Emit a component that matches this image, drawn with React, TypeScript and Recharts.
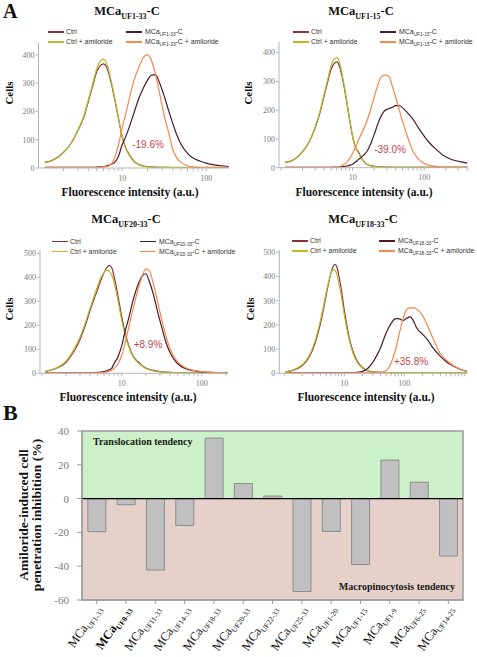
import React from 'react';
import { LineChart, Line, XAxis, YAxis, BarChart, Bar, ReferenceArea, ReferenceLine } from 'recharts';

const SERIF = '"Liberation Serif", "Times New Roman", Times, serif';
const SANS = '"Liberation Sans", Arial, Helvetica, sans-serif';

const COLORS = { ctrl: '#8e2f40', ctrlA: '#b7ba2a', mca: '#4b1b2b', mcaA: '#f5874c' };

// ---------- tick values for log axes ----------
const logTicks = [1, 2, 3, 4, 5, 6, 7, 8, 9, 10, 20, 30, 40, 50, 60, 70, 80, 90, 100, 200, 300, 400, 500, 600, 700, 800, 900, 1000];
const labelledTicks = [10, 100];
const cellTicks400 = [0, 100, 200, 300, 400];
const cellTicks500 = [0, 100, 200, 300, 400, 500];

// ---------- panel MCaUF1-33-C ----------
const xsUF1_33 = [1.2, 1.5, 2, 2.5, 3, 3.5, 4, 4.5, 5, 5.5, 6, 6.5, 7, 8, 9, 10, 11, 12, 14, 16, 18, 20, 22, 25, 28, 32, 36, 40, 45, 50, 60, 70, 85, 100, 120, 150, 185];
const ctrlUF1_33 = [20, 28, 55, 90, 135, 180, 240, 295, 342, 362, 368, 358, 330, 255, 178, 112, 72, 50, 22, 12, 7, 5, 4, 3, 2, 2, 2, 1, 1, 1, 1, 1, 1, 1, 1, 1, 1];
const ctrlAmiUF1_33 = [18, 27, 54, 90, 137, 184, 246, 302, 352, 378, 385, 372, 340, 260, 180, 110, 70, 48, 21, 11, 6, 4, 3, 3, 2, 2, 2, 2, 2, 2, 2, 2, 2, 2, 2, 2, 2];
const mcaUF1_33 = [2, 2, 2, 2, 2, 2, 2, 2, 3, 4, 5, 7, 10, 18, 40, 82, 110, 140, 200, 250, 285, 310, 327, 330, 300, 250, 200, 158, 115, 85, 52, 35, 24, 17, 12, 8, 5];
const mcaAmiUF1_33 = [2, 2, 2, 2, 2, 2, 2, 2, 2, 3, 4, 5, 8, 30, 80, 140, 190, 238, 315, 360, 392, 400, 385, 330, 262, 180, 122, 65, 35, 20, 8, 4, 2, 2, 2, 2, 2];

// ---------- panel MCaUF1-15-C ----------
const xsUF1_15 = [1.13, 1.5, 2, 2.5, 3, 3.5, 4, 4.5, 5, 5.5, 6, 6.5, 7, 8, 9, 10, 11, 12, 14, 16, 18, 20, 22, 25, 28, 32, 36, 40, 45, 50, 60, 70, 85, 100, 120, 150, 180, 220, 270, 330, 400];
const ctrlUF1_15 = [19, 28, 56, 92, 140, 192, 250, 300, 342, 362, 368, 355, 325, 250, 172, 108, 70, 55, 25, 11, 7, 5, 4, 3, 2, 2, 2, 1, 1, 1, 1, 1, 1, 1, 1, 1, 1, 1, 1, 1, 1];
const ctrlAmiUF1_15 = [17, 27, 55, 92, 142, 196, 256, 308, 355, 378, 383, 370, 335, 255, 175, 108, 68, 52, 23, 11, 6, 4, 3, 3, 2, 2, 2, 2, 2, 2, 2, 2, 2, 2, 2, 2, 2, 2, 2, 2, 2];
const mcaUF1_15 = [1, 1, 1, 1, 1, 1, 1, 1, 1, 2, 2, 2, 3, 5, 8, 12, 20, 28, 42, 58, 85, 115, 145, 180, 198, 205, 210, 216, 216, 208, 188, 168, 135, 110, 85, 62, 45, 33, 25, 20, 16];
const mcaAmiUF1_15 = [1, 1, 1, 1, 1, 1, 1, 1, 1, 2, 2, 4, 7, 15, 30, 50, 72, 95, 130, 165, 205, 245, 280, 315, 322, 318, 282, 245, 200, 160, 100, 56, 28, 15, 8, 4, 2, 2, 2, 2, 2];

// ---------- panel MCaUF20-33-C ----------
const xsUF20_33 = [1.1, 1.5, 2, 2.5, 3, 3.5, 4, 4.5, 5, 5.5, 6, 6.5, 7, 7.5, 8, 9, 10, 11, 12, 14, 16, 18, 20, 22, 25, 28, 32, 36, 40, 45, 50, 60, 70, 85, 100, 130, 160, 210];
const ctrlUF20_33 = [7, 20, 45, 90, 140, 200, 260, 310, 350, 390, 420, 440, 450, 440, 405, 320, 235, 170, 125, 70, 48, 32, 22, 17, 12, 9, 6, 5, 4, 3, 3, 2, 2, 2, 2, 2, 2, 2];
const ctrlAmiUF20_33 = [8, 22, 50, 97, 150, 210, 270, 320, 365, 400, 420, 430, 425, 410, 380, 300, 220, 160, 118, 66, 44, 30, 20, 15, 10, 7, 5, 4, 3, 3, 3, 2, 2, 2, 2, 2, 2, 2];
const mcaUF20_33 = [2, 2, 2, 2, 2, 2, 2, 3, 4, 5, 7, 10, 15, 22, 40, 70, 115, 175, 220, 310, 370, 405, 415, 385, 326, 258, 185, 125, 88, 58, 40, 22, 14, 9, 6, 4, 3, 2];
const mcaAmiUF20_33 = [2, 2, 2, 2, 2, 2, 2, 2, 2, 3, 4, 6, 9, 13, 20, 40, 75, 125, 180, 275, 350, 405, 435, 428, 370, 300, 215, 150, 105, 70, 48, 27, 17, 10, 7, 4, 3, 2];

// ---------- panel MCaUF18-33-C ----------
const xsUF18_33 = [1.05, 1.5, 2, 2.5, 3, 3.5, 4, 4.5, 5, 5.5, 6, 6.5, 7, 7.5, 8, 9, 10, 11, 12, 14, 16, 20, 25, 30, 35, 40, 50, 60, 70, 80, 95, 110, 125, 140, 160, 200, 250, 300, 400, 500, 650, 850, 1100];
const ctrlUF18_33 = [5, 15, 32, 60, 100, 150, 205, 265, 325, 375, 415, 440, 450, 440, 410, 340, 260, 200, 150, 90, 55, 24, 10, 6, 5, 4, 3, 2, 2, 2, 2, 2, 2, 2, 2, 2, 2, 2, 2, 2, 2, 2, 2];
const ctrlAmiUF18_33 = [6, 17, 36, 66, 108, 160, 218, 278, 335, 380, 412, 428, 425, 410, 380, 315, 240, 185, 140, 82, 50, 22, 9, 5, 4, 3, 3, 3, 3, 3, 3, 3, 3, 3, 3, 3, 3, 3, 3, 3, 3, 3, 3];
const mcaUF18_33 = [2, 2, 2, 2, 2, 2, 2, 2, 2, 2, 2, 2, 2, 2, 2, 2, 2, 3, 3, 3, 4, 8, 22, 46, 75, 105, 168, 205, 225, 226, 218, 228, 233, 220, 188, 162, 135, 105, 70, 48, 30, 17, 8];
const mcaAmiUF18_33 = [2, 2, 2, 2, 2, 2, 2, 2, 2, 2, 2, 2, 2, 2, 2, 2, 2, 2, 2, 2, 2, 2, 2, 3, 3, 4, 12, 42, 90, 150, 225, 265, 270, 270, 266, 240, 190, 145, 80, 55, 32, 17, 8];

// ---------- panel B ----------
const peptides = ['UF1-33', 'UF8-33', 'UF11-33', 'UF14-33', 'UF18-33', 'UF20-33', 'UF22-33', 'UF25-33', 'UF1-20', 'UF1-15', 'UF1-9', 'UF6-25', 'UF14-25'];
const inhibition = [-19.6, -3.6, -42.3, -15.9, 35.8, 8.9, 1.5, -55.0, -19.4, -39.0, 22.8, 9.7, -34.0];
const inhibitionTicks = [-60, -40, -20, 0, 20, 40];

const fmtPct = (v: number) => (v > 0 ? '+' : '') + v.toFixed(1) + '%';
const noteFor = (p: string) => fmtPct(inhibition[peptides.indexOf(p)]);

const panels = [
  {
    pep: 'UF1-33', xs: xsUF1_33, ctrl: ctrlUF1_33, ctrlA: ctrlAmiUF1_33, mca: mcaUF1_33, mcaA: mcaAmiUF1_33,
    box: { x: 0, y: 0 }, plot: { l: 38.5, r: 229, t: 43, b: 168 }, xDomain: [1.01, 187], yDomain: [0, 442], yTicks: cellTicks400,
    title: { x: 127, y: 11 }, legendY: [32, 42], legendX: [48, 126], cells: { x: 9, y: 93 }, xlabel: { x: 130, y: 193 }, note: { x: 148, y: 145 },
  },
  {
    pep: 'UF1-15', xs: xsUF1_15, ctrl: ctrlUF1_15, ctrlA: ctrlAmiUF1_15, mca: mcaUF1_15, mcaA: mcaAmiUF1_15,
    box: { x: 240, y: 0 }, plot: { l: 279, r: 468, t: 42, b: 167.7 }, xDomain: [0.935, 410], yDomain: [0, 437], yTicks: cellTicks400,
    title: { x: 361, y: 11 }, legendY: [32, 42], legendX: [293, 380], cells: { x: 248, y: 93 }, xlabel: { x: 364, y: 193 }, note: { x: 390, y: 150 },
  },
  {
    pep: 'UF20-33', xs: xsUF20_33, ctrl: ctrlUF20_33, ctrlA: ctrlAmiUF20_33, mca: mcaUF20_33, mcaA: mcaAmiUF20_33,
    box: { x: 0, y: 200 }, plot: { l: 40, r: 228, t: 250, b: 373.3 }, xDomain: [0.95, 213], yDomain: [0, 514], yTicks: cellTicks500,
    title: { x: 126, y: 219 }, legendY: [241.7, 251.7], legendX: [52, 140], cells: { x: 9, y: 309 }, xlabel: { x: 128, y: 398 }, note: { x: 148, y: 345 },
  },
  {
    pep: 'UF18-33', xs: xsUF18_33, ctrl: ctrlUF18_33, ctrlA: ctrlAmiUF18_33, mca: mcaUF18_33, mcaA: mcaAmiUF18_33,
    box: { x: 240, y: 200 }, plot: { l: 279.3, r: 468, t: 250, b: 373.3 }, xDomain: [0.826, 1150], yDomain: [0, 509.5], yTicks: cellTicks500,
    title: { x: 363, y: 219 }, legendY: [241, 251], legendX: [292, 379], cells: { x: 250, y: 309 }, xlabel: { x: 366, y: 398 }, note: { x: 411, y: 362 },
  },
];

type AbsProps = { x: number; y: number; anchor?: 'start' | 'middle' | 'end'; rotate?: number; style?: React.CSSProperties; children?: React.ReactNode };
const Abs = ({ x, y, anchor = 'middle', rotate = 0, style, children }: AbsProps) => (
  <div
    style={{
      position: 'absolute', left: x, top: y, whiteSpace: 'nowrap', lineHeight: 1,
      transform: `translate(${anchor === 'start' ? '0' : anchor === 'end' ? '-100%' : '-50%'}, -50%) rotate(${rotate}deg)`,
      ...style,
    }}
  >
    {children}
  </div>
);

const Sub = ({ children, size }: { children: React.ReactNode; size: number }) => (
  <span style={{ fontSize: size, position: 'relative', top: size * 0.45 }}>{children}</span>
);

function Histogram({ cfg }: { cfg: any }) {
  const W = 240, H = 200, YW = 28, XH = 16;
  const { box, plot } = cfg;
  const data = cfg.xs.map((x: number, i: number) => ({ x, ctrl: cfg.ctrl[i], ctrlA: cfg.ctrlA[i], mca: cfg.mca[i], mcaA: cfg.mcaA[i] }));
  const margin = { top: plot.t - box.y, left: plot.l - box.x - YW, right: box.x + W - plot.r, bottom: box.y + H - plot.b - XH };
  const ticks = logTicks.filter((t) => t >= cfg.xDomain[0] && t <= cfg.xDomain[1]);
  const tickStyle = { fontSize: 8, fill: '#7a7a7a', fontFamily: SERIF };
  const legendText = { fontFamily: SANS, fontSize: 6.9, color: '#333' };
  const legLine = (x: number, y: number, color: string) => (
    <div style={{ position: 'absolute', left: x, top: y - 0.75, width: 16, height: 1.5, background: color }} />
  );
  const mcaName = (
    <>
      MCa<Sub size={4.8}>{cfg.pep}</Sub>-C
    </>
  );
  return (
    <>
      <div style={{ position: 'absolute', left: box.x, top: box.y }}>
        <LineChart width={W} height={H} data={data} margin={margin}>
          <XAxis
            dataKey="x" type="number" scale="log" domain={cfg.xDomain} allowDataOverflow ticks={ticks} interval={0}
            tickFormatter={(v: number) => (labelledTicks.includes(v) ? String(v) : '')}
            height={XH} tickSize={3} tickMargin={4} stroke="#b5b5b5" tick={tickStyle}
          />
          <YAxis
            type="number" domain={cfg.yDomain} ticks={cfg.yTicks} allowDataOverflow interval={0}
            width={YW} tickSize={3} tickMargin={1} stroke="#b5b5b5" tick={tickStyle}
          />
          <Line type="monotone" dataKey="ctrl" stroke={COLORS.ctrl} strokeWidth={1.2} dot={false} isAnimationActive={false} />
          <Line type="monotone" dataKey="ctrlA" stroke={COLORS.ctrlA} strokeWidth={1.2} dot={false} isAnimationActive={false} />
          <Line type="monotone" dataKey="mca" stroke={COLORS.mca} strokeWidth={1.2} dot={false} isAnimationActive={false} />
          <Line type="monotone" dataKey="mcaA" stroke={COLORS.mcaA} strokeWidth={1.2} dot={false} isAnimationActive={false} />
        </LineChart>
      </div>
      <Abs x={cfg.title.x} y={cfg.title.y} style={{ fontFamily: SERIF, fontWeight: 'bold', fontSize: 12.5, color: '#111' }}>
        MCa<Sub size={8}>{cfg.pep}</Sub>-C
      </Abs>
      {legLine(cfg.legendX[0], cfg.legendY[0], COLORS.ctrl)}
      <Abs x={cfg.legendX[0] + 18} y={cfg.legendY[0]} anchor="start" style={legendText}>Ctrl</Abs>
      {legLine(cfg.legendX[0], cfg.legendY[1], COLORS.ctrlA)}
      <Abs x={cfg.legendX[0] + 18} y={cfg.legendY[1]} anchor="start" style={legendText}>Ctrl + amiloride</Abs>
      {legLine(cfg.legendX[1], cfg.legendY[0], COLORS.mca)}
      <Abs x={cfg.legendX[1] + 19} y={cfg.legendY[0]} anchor="start" style={legendText}>{mcaName}</Abs>
      {legLine(cfg.legendX[1], cfg.legendY[1], COLORS.mcaA)}
      <Abs x={cfg.legendX[1] + 19} y={cfg.legendY[1]} anchor="start" style={legendText}>{mcaName} + amiloride</Abs>
      <Abs x={cfg.cells.x} y={cfg.cells.y} rotate={-90} style={{ fontFamily: SERIF, fontWeight: 'bold', fontSize: 11, color: '#111' }}>Cells</Abs>
      <Abs x={cfg.xlabel.x} y={cfg.xlabel.y} style={{ fontFamily: SERIF, fontWeight: 'bold', fontSize: 11.5, color: '#111' }}>Fluorescence intensity (a.u.)</Abs>
      <Abs x={cfg.note.x} y={cfg.note.y} style={{ fontFamily: SANS, fontSize: 10, color: '#c4454f' }}>{noteFor(cfg.pep)}</Abs>
    </>
  );
}

// approximate Times advance widths (em) for subscript layout
const timesWidth = (s: string, size: number, bold: boolean) =>
  s.split('').reduce((w, ch) => {
    const em = ch === 'U' ? 0.722 : ch === 'F' ? (bold ? 0.611 : 0.556) : ch === '-' ? 0.333 : 0.5;
    return w + em * size;
  }, 0);

const renderPeptideTick = (props: any) => {
  const { x, y, payload } = props;
  const label = String(payload.value);
  const bold = label === 'UF8-33';
  const subSize = 7.5;
  const subW = timesWidth(label, subSize, bold);
  const weight = bold ? 'bold' : 'normal';
  return (
    <g transform={`translate(${x + 5},${y + 3})`}>
      <g transform="rotate(-55)">
        <text x={0} y={3} textAnchor="end" fontFamily={SERIF} fontSize={subSize} fontWeight={weight} fill="#111">{label}</text>
        <text x={-subW} y={0} textAnchor="end" fontFamily={SERIF} fontSize={12.5} fontWeight={weight} fill="#111">MCa</text>
      </g>
    </g>
  );
};

export default function App() {
  const barData = peptides.map((p, i) => ({ name: p, value: inhibition[i] }));
  return (
    <div style={{ position: 'absolute', left: 0, top: 0, width: 477, height: 657, background: '#fff', overflow: 'hidden' }}>
      {panels.map((cfg) => (
        <Histogram key={cfg.pep} cfg={cfg} />
      ))}
      <Abs x={3} y={11} anchor="start" style={{ fontFamily: SERIF, fontWeight: 'bold', fontSize: 20, color: '#111' }}>A</Abs>

      <div style={{ position: 'absolute', left: 0, top: 400 }}>
        <BarChart width={477} height={257} data={barData} margin={{ top: 31, right: 14, left: 52, bottom: 0 }} barCategoryGap="20%">
          <ReferenceArea y1={0} y2={40} fill="#ccf1c8" fillOpacity={1} stroke="none" zIndex={-50} />
          <ReferenceArea y1={-60} y2={0} fill="#e6d0ca" fillOpacity={1} stroke="none" zIndex={-50} />
          <XAxis dataKey="name" height={57} interval={0} tick={renderPeptideTick} stroke="#9a9a9a" tickSize={4} />
          <YAxis
            type="number" domain={[-60, 40]} ticks={inhibitionTicks} interval={0} width={30} tickSize={5} tickMargin={8}
            stroke="#9a9a9a" tick={{ fontSize: 11, fill: '#7a7a7a', fontFamily: SERIF }}
          />
          <Bar dataKey="value" fill="#c0c0c0" stroke="#8c8c8c" strokeWidth={1} isAnimationActive={false} />
          <ReferenceLine y={0} stroke="#000" strokeWidth={1.2} />
          <ReferenceArea y1={-60} y2={40} fill="none" stroke="#9a9a9a" strokeWidth={1.5} />
        </BarChart>
      </div>
      <Abs x={3} y={413} anchor="start" style={{ fontFamily: SERIF, fontWeight: 'bold', fontSize: 22, color: '#111' }}>B</Abs>
      <Abs x={93} y={442} anchor="start" style={{ fontFamily: SERIF, fontWeight: 'bold', fontSize: 10, color: '#1a1a1a' }}>Translocation tendency</Abs>
      <Abs x={455} y={587} anchor="end" style={{ fontFamily: SERIF, fontWeight: 'bold', fontSize: 10, color: '#1a1a1a' }}>Macropinocytosis tendency</Abs>
      <Abs x={31} y={515} rotate={-90} style={{ fontFamily: SERIF, fontWeight: 'bold', fontSize: 13.5, color: '#111', lineHeight: '12.7px', textAlign: 'center' }}>
        Amiloride-induced cell
        <br />
        penetration inhibition (%)
      </Abs>
    </div>
  );
}
